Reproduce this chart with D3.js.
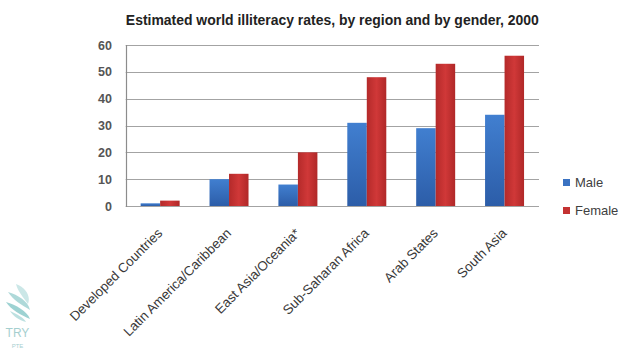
<!DOCTYPE html>
<html>
<head>
<meta charset="utf-8">
<script src="https://cdn.jsdelivr.net/npm/d3@7"></script>
<style>
  html, body { margin: 0; padding: 0; background: #fff; }
  svg { display: block; }
  text { font-family: "Liberation Sans", Arial, sans-serif; }
</style>
</head>
<body>
<div id="chart"></div>
<script>
// ---- data ----
const categories = ["Developed Countries", "Latin America/Caribbean", "East Asia/Oceania*", "Sub-Saharan Africa", "Arab States", "South Asia"];
const seriesNames = ["Male", "Female"];
const maleValues = [1, 10, 8, 31, 29, 34];
const femaleValues = [2, 12, 20, 48, 53, 56];
const yTicks = [0, 10, 20, 30, 40, 50, 60];
const title = "Estimated world illiteracy rates, by region and by gender, 2000";

const W = 643, H = 356;
const plot = { left: 125.7, right: 539, top: 45, bottom: 206 };

const svg = d3.select("#chart").append("svg").attr("width", W).attr("height", H);
const defs = svg.append("defs");

const gBlue = defs.append("linearGradient").attr("id", "gBlue").attr("x1", 0).attr("y1", 0).attr("x2", 0).attr("y2", 1);
gBlue.append("stop").attr("offset", "0%").attr("stop-color", "#417fd0");
gBlue.append("stop").attr("offset", "100%").attr("stop-color", "#2c5da8");
const gRed = defs.append("linearGradient").attr("id", "gRed").attr("x1", 0).attr("y1", 0).attr("x2", 1).attr("y2", 0);
gRed.append("stop").attr("offset", "0%").attr("stop-color", "#b42a2a");
gRed.append("stop").attr("offset", "50%").attr("stop-color", "#d03838");
gRed.append("stop").attr("offset", "100%").attr("stop-color", "#b02828");
const fills = { Male: "url(#gBlue)", Female: "url(#gRed)" };
const legendColors = { Male: "#3a72c2", Female: "#c43232" };

const x0 = d3.scaleBand().domain(categories).range([plot.left, plot.right]).paddingInner(0.434).paddingOuter(0.217);
const x1 = d3.scaleBand().domain(seriesNames).range([0, x0.bandwidth()]);
const y = d3.scaleLinear().domain([0, 60]).range([plot.bottom, plot.top]);

// gridlines
svg.append("g").selectAll("line").data(yTicks).join("line")
  .attr("x1", plot.left).attr("x2", plot.right)
  .attr("y1", d => Math.round(y(d)) + 0.5).attr("y2", d => Math.round(y(d)) + 0.5)
  .attr("stroke", "#a3a3a3").attr("stroke-width", 1.2);

// left axis line
svg.append("line").attr("x1", Math.round(plot.left) + 0.5).attr("x2", Math.round(plot.left) + 0.5)
  .attr("y1", Math.round(y(60))).attr("y2", Math.round(y(0)) + 1)
  .attr("stroke", "#8c8c8c").attr("stroke-width", 1.2);

// y tick labels
svg.append("g").selectAll("text").data(yTicks).join("text")
  .attr("x", 112).attr("y", d => y(d)).attr("dy", "0.36em")
  .attr("text-anchor", "end").attr("font-size", 12.5).attr("font-weight", "bold")
  .attr("fill", "#555").text(d => d);

// bars
const rows = categories.map((c, i) => ({ cat: c, Male: maleValues[i], Female: femaleValues[i] }));
const groups = svg.append("g").selectAll("g").data(rows).join("g")
  .attr("transform", d => `translate(${x0(d.cat)},0)`);
groups.selectAll("rect").data(d => seriesNames.map(s => ({ s, v: d[s] }))).join("rect")
  .attr("x", d => x1(d.s)).attr("width", x1.bandwidth())
  .attr("y", d => y(d.v)).attr("height", d => y(0) - y(d.v))
  .attr("fill", d => fills[d.s]);

// x labels
svg.append("g").selectAll("text").data(categories).join("text")
  .attr("transform", d => `translate(${x0(d) + x0.bandwidth() / 2 + 3},234) rotate(-45)`)
  .attr("text-anchor", "end").attr("font-size", 13.3).attr("fill", "#383838")
  .text(d => d);

// title
svg.append("text").attr("x", (plot.left + plot.right) / 2).attr("y", 25)
  .attr("text-anchor", "middle").attr("font-size", 15).attr("font-weight", "bold")
  .attr("fill", "#222")
  .style("font-family", '"Liberation Sans Narrow", "Liberation Sans", Arial, sans-serif')
  .attr("textLength", 413).attr("lengthAdjust", "spacingAndGlyphs")
  .text(title);

// legend
const leg = svg.append("g").selectAll("g").data(seriesNames).join("g")
  .attr("transform", (d, i) => `translate(563,${179 + i * 28})`);
leg.append("rect").attr("width", 7).attr("height", 7).attr("fill", d => legendColors[d]);
leg.append("text").attr("x", 12).attr("y", 3.5).attr("dy", "0.36em")
  .attr("font-size", 13).attr("fill", "#404040").text(d => d);

// watermark
const wm = svg.append("g").attr("opacity", 0.7);
wm.append("path").attr("d", "M16,284 C26,288 31,296 28,304 C24,298 18,292 16,284 Z").attr("fill", "#b6dede");
wm.append("path").attr("d", "M8,292 C18,295 28,301 30,310 C22,305 13,300 8,292 Z").attr("fill", "#8ccaca");
wm.append("path").attr("d", "M6,302 C16,305 27,311 30,319 C21,315 11,310 6,302 Z").attr("fill", "#74bfbf");
wm.append("path").attr("d", "M10,311 C17,314 24,318 26,322 C19,320 13,316 10,311 Z").attr("fill", "#a0d4d4");
wm.append("text").attr("x", 17.5).attr("y", 337).attr("text-anchor", "middle")
  .attr("font-size", 12).attr("fill", "#7fbcbc").text("TRY");
wm.append("text").attr("x", 17.5).attr("y", 348).attr("text-anchor", "middle")
  .attr("font-size", 6).attr("fill", "#7fbcbc").text("PTE");
</script>
</body>
</html>
